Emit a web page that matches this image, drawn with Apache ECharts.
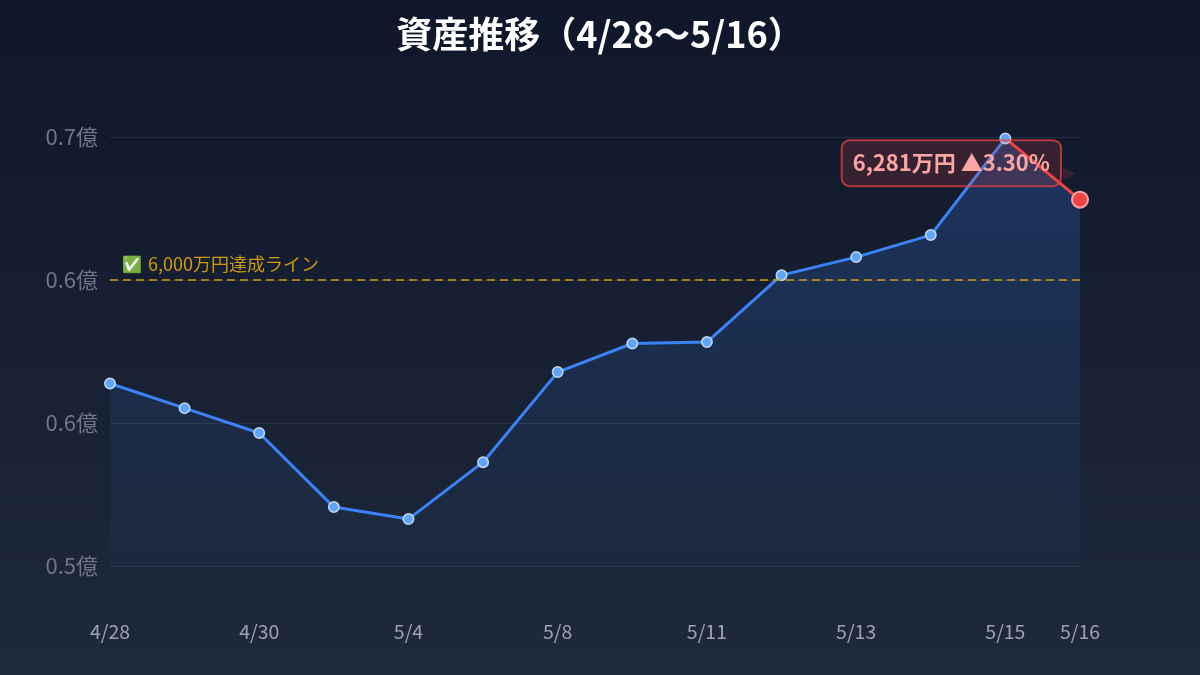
<!DOCTYPE html>
<html>
<head>
<meta charset="utf-8">
<style>html,body{margin:0;padding:0;background:#0f172a}#chart{width:1200px;height:675px}</style>
<script src="https://cdn.jsdelivr.net/npm/echarts@6/dist/echarts.min.js"></script>
</head>
<body>
<div id="chart"></div>
<script>
// Asset totals in 万円 for each trading day
const dates = ['4/28','4/29','4/30','5/1','5/4','5/7','5/8','5/9','5/11','5/12','5/13','5/14','5/15','5/16'];
const assets = [5638,5552,5465,5206,5164,5363,5678,5778,5783,6017,6080,6157,6495,6281];
const shownDates = ['4/28','4/30','5/4','5/8','5/11','5/13','5/15','5/16'];
const yTicks = {min: 0.5, max: 0.65, step: 0.05};
const goalLine = 0.6;
const goalIcon = '✅';
const goalText = '6,000万円達成ライン';
const latestLabel = '6,281万円 ▲3.30%';
const titleText = '資産推移（4/28〜5/16）';

const FONT = '"Noto Sans CJK JP","Noto Sans",sans-serif';
const inOku = assets.map(v => v / 10000);
const last = inOku.length - 1;
const mainLine = inOku.slice(0, last).concat([null]);
const fallLine = inOku.map((v, i) => i >= last - 1 ? v : null);

const chart = echarts.init(document.getElementById('chart'));
chart.setOption({
  animation: false,
  backgroundColor: new echarts.graphic.LinearGradient(0, 0, 0, 1, [
    {offset: 0, color: '#0f172a'}, {offset: 1, color: '#1e293b'}
  ]),
  title: {
    text: titleText, left: 'center', top: 11,
    textStyle: {color: '#ffffff', fontFamily: FONT, fontSize: 36, fontWeight: 700}
  },
  grid: {left: 110, right: 120, top: 137, bottom: 109},
  xAxis: {
    type: 'category', data: dates, boundaryGap: false,
    axisLine: {show: false}, axisTick: {show: false}, splitLine: {show: false},
    axisLabel: {
      color: '#9ca3af', fontFamily: FONT, fontSize: 19.5, margin: 56,
      interval: (i, name) => shownDates.includes(name)
    }
  },
  yAxis: {
    type: 'value', min: yTicks.min, max: yTicks.max, interval: yTicks.step,
    axisLine: {show: false}, axisTick: {show: false},
    axisLabel: {
      color: '#6f7785', fontFamily: FONT, fontSize: 22, margin: 12, padding: [0, 0, 4, 0],
      formatter: v => v.toFixed(2) === '0.65' ? '0.7億' : (v >= 0.545 ? '0.6億' : '0.5億')
    },
    splitLine: {lineStyle: {color: 'rgba(148,163,184,0.15)', width: 1}}
  },
  series: [
    {
      name: '資産', type: 'line', data: inOku, z: 1,
      showSymbol: false, lineStyle: {width: 0},
      areaStyle: {
        color: new echarts.graphic.LinearGradient(0, 0, 0, 1, [
          {offset: 0, color: 'rgba(59,130,246,0.35)'},
          {offset: 1, color: 'rgba(59,130,246,0.03)'}
        ])
      },
      markLine: {
        silent: true, symbol: 'none',
        data: [{yAxis: goalLine}],
        lineStyle: {color: '#cf9a0e', type: [8, 5], width: 1.5},
        label: {
          show: true, position: 'insideStartTop', distance: 6,
          formatter: '{icon|' + goalIcon + '}{text|' + goalText + '}',
          rich: {
            icon: {fontSize: 16, padding: [4, 6, 0, 6], opacity: 0.85},
            text: {color: '#cf9a0e', fontFamily: FONT, fontSize: 18}
          }
        }
      }
    },
    {
      name: '下落', type: 'line', data: fallLine, z: 3,
      symbol: 'none', connectNulls: false,
      lineStyle: {color: '#ef4444', width: 3}
    },
    {
      name: '推移', type: 'line', data: mainLine, z: 4,
      symbol: 'circle', symbolSize: 10.5, showAllSymbol: true,
      lineStyle: {color: '#3b82f6', width: 3},
      itemStyle: {color: '#60a5fa', borderColor: 'rgba(219,234,254,0.85)', borderWidth: 1.5}
    },
    {
      name: '最新', type: 'line', z: 5,
      data: inOku.map((v, i) => i === last ? v : null),
      symbol: 'circle', symbolSize: 16, showAllSymbol: true,
      lineStyle: {width: 0},
      itemStyle: {color: '#ef4444', borderColor: '#fca5a5', borderWidth: 2},
      markPoint: {
        silent: true, z: 8,
        symbol: 'triangle', symbolSize: [12, 13], symbolRotate: -90, symbolOffset: [-10.5, -26],
        itemStyle: {color: 'rgba(239,68,68,0.17)'},
        data: [{coord: [dates[last], inOku[last]]}],
        label: {
          show: true, formatter: latestLabel, position: 'left', offset: [3, -10.5],
          color: '#fca5a5', fontFamily: FONT, fontSize: 22, fontWeight: 700,
          backgroundColor: 'rgba(239,68,68,0.17)', borderColor: 'rgba(239,68,68,0.7)', borderWidth: 1,
          borderRadius: 8, padding: [12, 11]
        }
      }
    }
  ]
});
</script>
</body>
</html>
